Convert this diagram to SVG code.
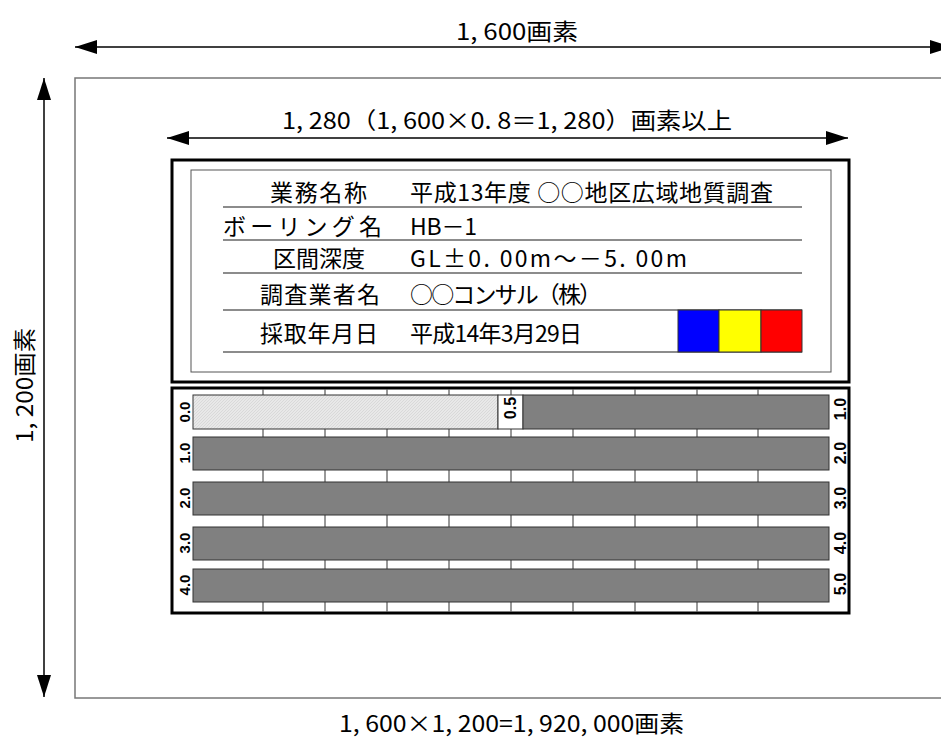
<svg xmlns="http://www.w3.org/2000/svg" width="941" height="738" viewBox="0 0 941 738">
<defs>
<style>
.dim{font-family:"Noto Sans CJK JP","Liberation Sans",sans-serif;font-size:23px;fill:#000}
.tbl{font-family:"Noto Sans CJK JP","Liberation Sans",sans-serif;font-size:23px;fill:#000}
.num{font-family:"Liberation Sans",Arial,sans-serif;font-weight:bold;font-size:15px;fill:#000;text-anchor:middle}
.thick{fill:#fff;stroke:#000;stroke-width:3}
.rule{stroke:#666;stroke-width:1.5}
.tick{stroke:#333;stroke-width:1}
.bar{fill:#808080;stroke:#333;stroke-width:1}
.arrow{stroke:#000;stroke-width:1.5;fill:none}
</style>
<marker id="ah" markerUnits="userSpaceOnUse" markerWidth="22" markerHeight="14" refX="22" refY="7" orient="auto-start-reverse">
<path d="M0,0 L22,7 L0,14 z" fill="#000"/>
</marker>
<pattern id="hatch" width="3" height="3" patternUnits="userSpaceOnUse">
<rect width="3" height="3" fill="#e8e8e8"/>
<path d="M0,3 L3,0" stroke="#d2d2d2" stroke-width="0.7"/>
</pattern>
</defs>
<rect width="941" height="738" fill="#fff"/>

<g id="outer-frame">
<rect x="75" y="78" width="920" height="620" fill="none" stroke="#777" stroke-width="1.5"/>
</g>

<g id="connectors">
<line class="arrow" x1="75" y1="47" x2="952" y2="47" marker-start="url(#ah)" marker-end="url(#ah)"/>
<line class="arrow" x1="167" y1="138" x2="848" y2="138" marker-start="url(#ah)" marker-end="url(#ah)"/>
<line class="arrow" x1="44" y1="78" x2="44" y2="697" marker-start="url(#ah)" marker-end="url(#ah)"/>
</g>

<g id="dim-1600">
<text class="dim" x="456" y="40" textLength="122" lengthAdjust="spacingAndGlyphs">1, 600画素</text>
</g>
<g id="dim-1280">
<text class="dim" x="282" y="129" textLength="450" lengthAdjust="spacingAndGlyphs">1, 280（1, 600×0. 8＝1, 280）画素以上</text>
</g>
<g id="dim-1200">
<text class="dim" transform="translate(33,443) rotate(-90)" x="0" y="0" textLength="115" lengthAdjust="spacingAndGlyphs">1, 200画素</text>
</g>
<g id="total-label">
<text class="dim" x="339" y="732" textLength="345" lengthAdjust="spacingAndGlyphs">1, 600×1, 200=1, 920, 000画素</text>
</g>

<g id="title-panel">
<rect class="thick" x="172" y="160" width="677" height="222"/>
<rect x="191" y="170" width="640" height="202" fill="none" stroke="#555" stroke-width="1"/>
<line class="rule" x1="223" y1="207" x2="802" y2="207"/>
<line class="rule" x1="223" y1="240" x2="802" y2="240"/>
<line class="rule" x1="223" y1="273" x2="802" y2="273"/>
<line class="rule" x1="223" y1="310" x2="802" y2="310"/>
<line class="rule" x1="223" y1="352" x2="802" y2="352"/>
<text class="tbl" x="270" y="201" textLength="97">業務名称</text>
<text class="tbl" x="223" y="235" textLength="159">ボーリング名</text>
<text class="tbl" x="273" y="267" textLength="92">区間深度</text>
<text class="tbl" x="260" y="303" textLength="120">調査業者名</text>
<text class="tbl" x="260" y="342" textLength="118">採取年月日</text>
<text class="tbl" x="410" y="201" textLength="363">平成13年度 ○○地区広域地質調査</text>
<text class="tbl" x="410" y="235" textLength="67">HB－1</text>
<text class="tbl" x="410" y="267" textLength="277">GL±0. 00m～－5. 00m</text>
<text class="tbl" x="410" y="303" textLength="192">○○コンサル（株）</text>
<text class="tbl" x="410" y="342" textLength="172">平成14年3月29日</text>
<rect x="678" y="310" width="41" height="42" fill="#0000ff" stroke="#333" stroke-width="1"/>
<rect x="719" y="310" width="42" height="42" fill="#ffff00" stroke="#333" stroke-width="1"/>
<rect x="761" y="310" width="41" height="42" fill="#ff0000" stroke="#333" stroke-width="1"/>
</g>

<g id="bar-panel">
<rect class="thick" x="172" y="388" width="677" height="225"/>
<g class="tick">
<line x1="263" y1="389.5" x2="263" y2="611.5"/>
<line x1="325" y1="389.5" x2="325" y2="611.5"/>
<line x1="387" y1="389.5" x2="387" y2="611.5"/>
<line x1="449" y1="389.5" x2="449" y2="611.5"/>
<line x1="511" y1="389.5" x2="511" y2="611.5"/>
<line x1="573" y1="389.5" x2="573" y2="611.5"/>
<line x1="635" y1="389.5" x2="635" y2="611.5"/>
<line x1="697" y1="389.5" x2="697" y2="611.5"/>
<line x1="758" y1="389.5" x2="758" y2="611.5"/>
</g>
<rect x="193" y="395" width="305" height="34" fill="url(#hatch)" stroke="#333" stroke-width="1"/>
<rect x="498" y="395" width="25" height="34" fill="#fff" stroke="#333" stroke-width="1"/>
<rect class="bar" x="523" y="395" width="306" height="34"/>
<rect class="bar" x="193" y="437" width="636" height="33"/>
<rect class="bar" x="193" y="482" width="636" height="33"/>
<rect class="bar" x="193" y="527" width="636" height="33"/>
<rect class="bar" x="193" y="569" width="636" height="33"/>
<text class="num" transform="translate(184.5,412) rotate(-90)" y="5.5">0.0</text>
<text class="num" transform="translate(184.5,453) rotate(-90)" y="5.5">1.0</text>
<text class="num" transform="translate(184.5,498) rotate(-90)" y="5.5">2.0</text>
<text class="num" transform="translate(184.5,543) rotate(-90)" y="5.5">3.0</text>
<text class="num" transform="translate(184.5,585) rotate(-90)" y="5.5">4.0</text>
<text class="num" transform="translate(840,409) rotate(-90)" y="5.5" style="font-size:16px">1.0</text>
<text class="num" transform="translate(840,453) rotate(-90)" y="5.5" style="font-size:16px">2.0</text>
<text class="num" transform="translate(840,498) rotate(-90)" y="5.5" style="font-size:16px">3.0</text>
<text class="num" transform="translate(840,543) rotate(-90)" y="5.5" style="font-size:16px">4.0</text>
<text class="num" transform="translate(840,584) rotate(-90)" y="5.5" style="font-size:16px">5.0</text>
<text class="num" transform="translate(510,408) rotate(-90)" y="5.5" style="font-size:16px">0.5</text>
</g>
</svg>
